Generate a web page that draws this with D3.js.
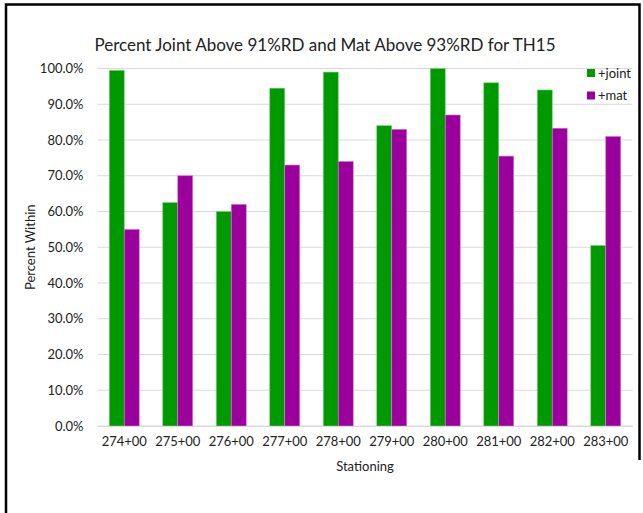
<!DOCTYPE html>
<html>
<head>
<meta charset="utf-8">
<script src="https://cdn.jsdelivr.net/npm/d3@7/dist/d3.min.js"></script>
<style>
  html, body { margin: 0; padding: 0; background: #fff; }
  svg { display: block; }
  text { font-family: Lato, "Open Sans", sans-serif; fill: #222; }
</style>
</head>
<body>
<script>
// Station labels along the alignment
const stations = ["274+00", "275+00", "276+00", "277+00", "278+00",
                  "279+00", "280+00", "281+00", "282+00", "283+00"];
// Percent of joint readings above 91% relative density
const jointPct = [99.5, 62.5, 60.0, 94.5, 99.0, 84.0, 100.0, 96.0, 94.0, 50.5];
// Percent of mat readings above 93% relative density
const matPct = [55.0, 70.0, 62.0, 73.0, 74.0, 83.0, 87.0, 75.5, 83.3, 81.0];
const seriesNames = ["+joint", "+mat"];
const seriesColors = ["#009a00", "#9c009c"];
const yTicks = [0, 10, 20, 30, 40, 50, 60, 70, 80, 90, 100];
const chartTitle = "Percent Joint Above 91%RD and Mat Above 93%RD for TH15";

const W = 643, H = 513;
const plot = { left: 97.5, right: 632.5, top: 68.5, bottom: 426 };

const svg = d3.select("body").append("svg")
  .attr("width", W).attr("height", H);

// frame around the chart
svg.append("path")
  .attr("d", `M6,513 L6,4.5 L639.5,4.5 L639.5,460`)
  .attr("fill", "none").attr("stroke", "#000").attr("stroke-width", 2.5);

const x = d3.scaleBand().domain(stations)
  .range([plot.left, plot.right]).paddingInner(0.44).paddingOuter(0.22);
const xs = d3.scaleBand().domain(seriesNames).range([0, x.bandwidth()]);
const y = d3.scaleLinear().domain([0, 100]).range([plot.bottom, plot.top]);

// horizontal gridlines
svg.append("g").selectAll("line").data(yTicks).join("line")
  .attr("x1", plot.left).attr("x2", plot.right)
  .attr("y1", d => y(d)).attr("y2", d => y(d))
  .attr("stroke", "#d9d9d9").attr("stroke-width", 1.2);

// y axis labels
const yAxis = d3.axisLeft(y).tickValues(yTicks)
  .tickFormat(d => d.toFixed(1) + "%").tickSize(0).tickPadding(14);
const gy = svg.append("g").attr("transform", `translate(${plot.left},0)`).call(yAxis);
gy.select(".domain").remove();
gy.selectAll("text").style("font-size", "13px").attr("fill", "#222")
  .style("font-family", "Lato, sans-serif");

// grouped bars
const rows = stations.map((s, i) => ({ s, vals: [jointPct[i], matPct[i]] }));
const groups = svg.append("g").selectAll("g").data(rows).join("g")
  .attr("transform", d => `translate(${x(d.s)},0)`);
groups.selectAll("rect")
  .data(d => d.vals.map((v, k) => ({ k, v })))
  .join("rect")
  .attr("x", d => xs(seriesNames[d.k]))
  .attr("width", xs.bandwidth())
  .attr("y", d => y(d.v))
  .attr("height", d => y(0) - y(d.v))
  .attr("fill", d => seriesColors[d.k])
  .attr("stroke", d => d.k === 0 ? "#7fd07f" : "#d27fd2")
  .attr("stroke-width", 0.6);

// x axis
const xAxis = d3.axisBottom(x).tickSize(0).tickPadding(11);
const gx = svg.append("g").attr("transform", `translate(0,${plot.bottom})`).call(xAxis);
gx.select(".domain").attr("stroke", "#d9d9d9").attr("stroke-width", 1.2);
gx.selectAll("text").style("font-size", "13px").attr("fill", "#222")
  .style("font-family", "Lato, sans-serif");

// title and axis titles
svg.append("text").attr("x", 325).attr("y", 51).attr("text-anchor", "middle")
  .style("font-size", "17px").text(chartTitle);
svg.append("text").attr("x", (plot.left + plot.right) / 2 - 0).attr("y", 471)
  .attr("text-anchor", "middle").style("font-size", "13px").text("Stationing");
svg.append("text")
  .attr("transform", `translate(35,${(plot.top + plot.bottom) / 2}) rotate(-90)`)
  .attr("text-anchor", "middle").style("font-size", "13px").text("Percent Within");

// legend
const lg = svg.append("g").selectAll("g").data(seriesNames).join("g")
  .attr("transform", (d, i) => `translate(587,${69 + i * 22.5})`);
lg.append("rect").attr("width", 8).attr("height", 8)
  .attr("fill", (d, i) => seriesColors[i]);
lg.append("text").attr("x", 11).attr("y", 4).attr("dy", "0.35em")
  .style("font-size", "13px").text(d => d);
</script>
</body>
</html>
